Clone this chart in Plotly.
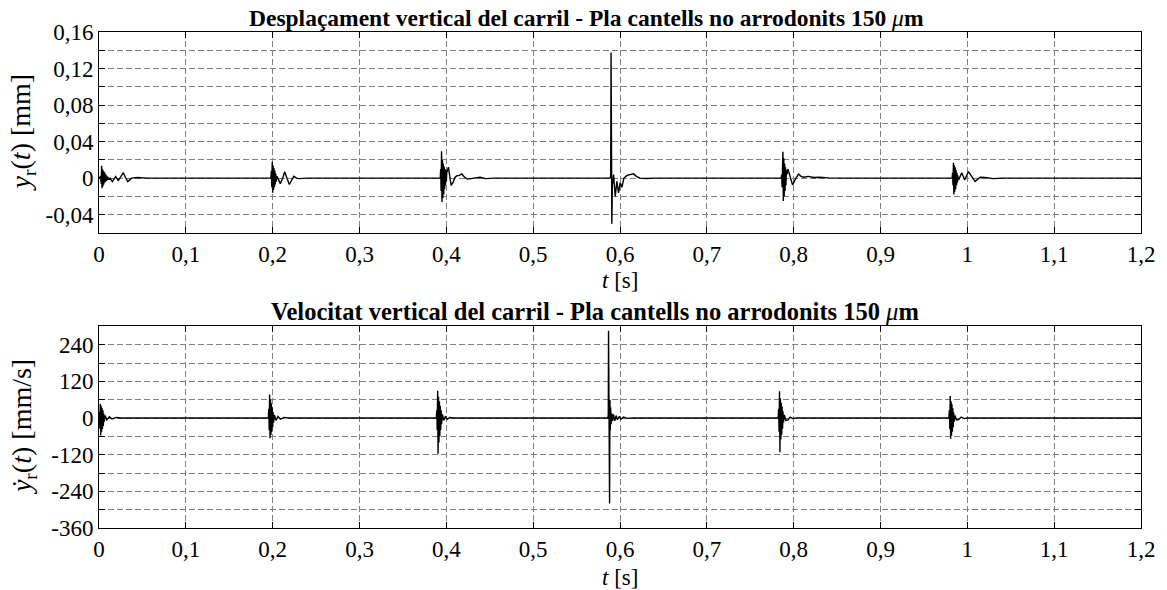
import plotly.graph_objects as go

# ---------------- Rail vertical displacement y_r(t) [mm] ----------------
# one list pair per wheel-flat impact
t_d0 = [0.0000, 0.0020, 0.0025, 0.0030, 0.0035, 0.0040, 0.0045, 0.0050, 0.0055, 0.0060,
        0.0065, 0.0070, 0.0075, 0.0080, 0.0085, 0.0090, 0.0095, 0.0100, 0.0110, 0.0127,
        0.0153, 0.0192, 0.0222, 0.0250, 0.0280, 0.0305, 0.0330, 0.0375, 0.0450, 0.0550]
y_d0 = [0.0, 0.002, -0.006, 0.0137, -0.011, 0.010, -0.009, 0.008, -0.007, 0.007,
        -0.005, 0.005, -0.004, 0.004, -0.003, 0.002, -0.002, 0.0015, -0.001, 0.000,
        -0.0037, 0.0018, -0.0026, 0.001, 0.006, 0.001, -0.0037, 0.000, 0.0008, 0.0]

t_d1 = [0.1980, 0.1985, 0.1990, 0.1995, 0.2000, 0.2005, 0.2010, 0.2015, 0.2020, 0.2025,
        0.2030, 0.2035, 0.2040, 0.2050, 0.2070, 0.2088, 0.2115, 0.2138, 0.2165, 0.2192,
        0.2220, 0.2243, 0.2275, 0.2300, 0.2400]
y_d1 = [0.0, 0.008, -0.010, 0.018, -0.016, 0.014, -0.013, 0.011, -0.010, 0.008,
        -0.007, 0.005, -0.004, 0.002, -0.002, -0.006, 0.000, 0.0069, 0.000, -0.0069,
        -0.002, 0.002, 0.000, -0.0005, 0.0]

t_d2 = [0.3930, 0.3935, 0.3940, 0.3945, 0.3950, 0.3955, 0.3960, 0.3965, 0.3970, 0.3975,
        0.3980, 0.3985, 0.3990, 0.3995, 0.4000, 0.4005, 0.4024, 0.4040, 0.4055, 0.4080,
        0.4100, 0.4124, 0.4150, 0.4178, 0.4210, 0.4243, 0.4300, 0.4389, 0.4450, 0.4550]
y_d2 = [0.0, 0.010, -0.014, 0.0295, -0.026, 0.020, -0.022, 0.016, -0.018, 0.013,
        -0.012, 0.010, -0.008, 0.009, -0.004, 0.006, 0.012, 0.002, -0.008, -0.004,
        0.001, 0.0027, 0.003, 0.0046, 0.001, -0.001, 0.000, 0.001, -0.0005, 0.0]

t_d3 = [0.5885, 0.5893, 0.5897, 0.5901, 0.5906, 0.5912, 0.5926, 0.5945, 0.5964, 0.5983,
        0.6002, 0.6022, 0.6045, 0.6080, 0.6120, 0.6155, 0.6190, 0.6230, 0.6300, 0.6400]
y_d3 = [0.0, 0.003, 0.1375, 0.010, -0.050, -0.008, 0.004, -0.020, -0.0035, -0.016,
        -0.005, -0.010, 0.000, 0.003, 0.004, 0.0047, 0.002, 0.000, -0.0003, 0.0]

t_d4 = [0.7855, 0.7862, 0.7867, 0.7872, 0.7876, 0.7881, 0.7886, 0.7891, 0.7896, 0.7901,
        0.7906, 0.7911, 0.7916, 0.7921, 0.7934, 0.7960, 0.7987, 0.8020, 0.8056, 0.8085,
        0.8114, 0.8145, 0.8172, 0.8230, 0.8300, 0.8400, 0.8530]
y_d4 = [0.0, 0.004, -0.010, 0.014, 0.029, -0.025, 0.022, -0.020, 0.016, -0.014,
        0.012, -0.008, 0.009, 0.004, 0.010, 0.002, -0.0073, -0.001, 0.0045, 0.002,
        0.001, 0.0015, 0.002, 0.0008, 0.001, 0.0003, 0.0]

t_d5 = [0.9825, 0.9830, 0.9835, 0.9840, 0.9845, 0.9850, 0.9855, 0.9860, 0.9865, 0.9870,
        0.9875, 0.9880, 0.9885, 0.9890, 0.9900, 0.9935, 0.9970, 1.0013, 1.0050, 1.0090,
        1.0147, 1.0200, 1.0300, 1.0400]
y_d5 = [0.0, 0.006, -0.008, 0.017, -0.018, 0.014, -0.015, 0.012, -0.012, 0.009,
        -0.008, 0.006, -0.005, 0.003, -0.002, 0.006, -0.002, 0.0072, 0.002, -0.0037,
        0.001, 0.0008, -0.0005, 0.0]

# ---------------- Rail vertical velocity dy_r/dt [mm/s] ----------------
t_v0 = [0.0000, 0.0005, 0.0010, 0.0015, 0.0020, 0.0025, 0.0030, 0.0035, 0.0040, 0.0045,
        0.0050, 0.0055, 0.0060, 0.0070, 0.0090, 0.0120, 0.0150, 0.0200, 0.0250]
y_v0 = [0, 20, -35, 47, -57, 40, -45, 33, -36, 25,
        -26, 15, -12, 8, -6, 4, -3, 2, 0]

t_v1 = [0.1950, 0.1955, 0.1960, 0.1965, 0.1970, 0.1975, 0.1980, 0.1985, 0.1990, 0.1995,
        0.2000, 0.2005, 0.2010, 0.2020, 0.2040, 0.2060, 0.2090, 0.2130, 0.2180]
y_v1 = [0, 30, -40, 77, -66, 60, -55, 48, -45, 35,
        -30, 20, -15, 10, -8, 5, -4, 2, 0]

t_v2 = [0.3885, 0.3890, 0.3895, 0.3900, 0.3905, 0.3910, 0.3915, 0.3920, 0.3925, 0.3930,
        0.3935, 0.3940, 0.3945, 0.3955, 0.3970, 0.3990, 0.4010, 0.4040, 0.4080]
y_v2 = [0, 25, -40, 89, -117, 70, -80, 55, -60, 40,
        -40, 25, -20, 12, -8, 6, -4, 2, 0]

t_v3 = [0.5860, 0.5865, 0.5868, 0.5872, 0.5876, 0.5880, 0.5884, 0.5888, 0.5892, 0.5897,
        0.5905, 0.5915, 0.5925, 0.5940, 0.5955, 0.5970, 0.5990, 0.6010, 0.6040, 0.6080, 0.6150]
y_v3 = [0, 10, 286, 20, 86, -280, 60, -40, 35, -20,
        15, -10, 12, -9, 8, -6, 5, -4, 3, -1, 0]

t_v4 = [0.7822, 0.7827, 0.7832, 0.7837, 0.7842, 0.7847, 0.7852, 0.7857, 0.7862, 0.7867,
        0.7872, 0.7877, 0.7882, 0.7892, 0.7910, 0.7935, 0.7960, 0.7990, 0.8030]
y_v4 = [0, 30, -45, 88, -112, 65, -70, 50, -55, 38,
        -35, 22, -15, 10, -8, -6, 3, -2, 0]

t_v5 = [0.9788, 0.9793, 0.9798, 0.9803, 0.9808, 0.9813, 0.9818, 0.9823, 0.9828, 0.9833,
        0.9838, 0.9843, 0.9848, 0.9858, 0.9875, 0.9900, 0.9930, 0.9960, 1.0000]
y_v5 = [0, 25, -35, 72, -68, 55, -58, 45, -45, 32,
        -30, 18, -12, 8, -6, -5, 3, -2, 0]

t_end = 1.2

# axis ticks (labelled ticks; the dashed grid also has minor lines in between)
x_ticks = [0, 0.1, 0.2, 0.3, 0.4, 0.5, 0.6, 0.7, 0.8, 0.9, 1.0, 1.1, 1.2]
x_labels = ["0", "0,1", "0,2", "0,3", "0,4", "0,5", "0,6", "0,7", "0,8", "0,9", "1", "1,1", "1,2"]
yd_ticks = [-0.04, 0, 0.04, 0.08, 0.12, 0.16]
yd_labels = ["-0,04", "0", "0,04", "0,08", "0,12", "0,16"]
yv_ticks = [-360, -240, -120, 0, 120, 240]
yv_labels = ["-360", "-240", "-120", "0", "120", "240"]

title_top = "<b>Desplaçament vertical del carril - Pla cantells no arrodonits 150 </b><i>μ</i><b>m</b>"
title_bot = "<b>Velocitat vertical del carril - Pla cantells no arrodonits 150 </b><i>μ</i><b>m</b>"


def join(ts, ys):
    tt, yy = [], []
    for a, b in zip(ts, ys):
        tt += a
        yy += b
    tt.append(t_end)
    yy.append(0)
    return tt, yy


td, yd = join([t_d0, t_d1, t_d2, t_d3, t_d4, t_d5], [y_d0, y_d1, y_d2, y_d3, y_d4, y_d5])
tv, yv = join([t_v0, t_v1, t_v2, t_v3, t_v4, t_v5], [y_v0, y_v1, y_v2, y_v3, y_v4, y_v5])

FONT = "Liberation Serif, Times New Roman, serif"
GRID = "#808080"
DASH = "6px,3px"

fig = go.Figure()
fig.add_trace(go.Scatter(x=td, y=yd, mode="lines", line=dict(color="black", width=1.4),
                         xaxis="x", yaxis="y", showlegend=False, hoverinfo="skip"))
fig.add_trace(go.Scatter(x=tv, y=yv, mode="lines", line=dict(color="black", width=1.4),
                         xaxis="x2", yaxis="y2", showlegend=False, hoverinfo="skip"))

frame = dict(showgrid=True, gridcolor=GRID, griddash=DASH, gridwidth=1,
             showline=True, linecolor="black", linewidth=1, mirror="ticks",
             ticks="inside", ticklen=6, tickcolor="black", zeroline=False,
             tickfont=dict(family=FONT, size=23, color="black"))
common_x = dict(range=[0, 1.2], tickvals=x_ticks, ticktext=x_labels, **frame)

fig.update_layout(
    width=1167, height=590,
    margin=dict(l=99, r=26, t=32, b=62),
    paper_bgcolor="white", plot_bgcolor="white",
    xaxis=dict(domain=[0, 1], anchor="y", **common_x),
    yaxis=dict(domain=[0.5948, 1], anchor="x", range=[-0.06, 0.16],
               tickvals=yd_ticks, ticktext=yd_labels,
               minor=dict(tick0=-0.06, dtick=0.04, showgrid=True, gridcolor=GRID,
                          griddash=DASH, gridwidth=1, ticks="inside", ticklen=6,
                          tickcolor="black"),
               **frame),
    xaxis2=dict(domain=[0, 1], anchor="y2", **common_x),
    yaxis2=dict(domain=[0, 0.4065], anchor="x2", range=[-360, 300],
                tickvals=yv_ticks, ticktext=yv_labels,
                minor=dict(tick0=-300, dtick=120, showgrid=True, gridcolor=GRID,
                           griddash=DASH, gridwidth=1, ticks="inside", ticklen=6,
                           tickcolor="black"),
                **frame),
)

ann_font = dict(family=FONT, size=23, color="black")
annotations = [
    dict(text=title_top, x=0.4674, y=1.0, xref="paper", yref="paper", xanchor="center",
         yanchor="bottom", yshift=-1, showarrow=False,
         font=dict(family=FONT, size=23.5, color="black")),
    dict(text=title_bot, x=0.476, y=0.4065, xref="paper", yref="paper", xanchor="center",
         yanchor="bottom", yshift=-1, showarrow=False,
         font=dict(family=FONT, size=24.5, color="black")),
    dict(text="<i>t</i> [s]", x=0.5, y=0.5948, xref="paper", yref="paper", xanchor="center",
         yanchor="middle", yshift=-48, showarrow=False, font=ann_font),
    dict(text="<i>t</i> [s]", x=0.5, y=0.0, xref="paper", yref="paper", xanchor="center",
         yanchor="middle", yshift=-49, showarrow=False, font=ann_font),
    dict(text="<i>y</i><sub>r</sub>(<i>t</i>) [mm]", x=-0.073, y=0.7974, xref="paper", yref="paper",
         xanchor="center", yanchor="middle", textangle=-90, showarrow=False,
         font=dict(family=FONT, size=28, color="black")),
    dict(text="<i>ẏ</i><sub>r</sub>(<i>t</i>) [mm/s]", x=-0.073, y=0.2033, xref="paper", yref="paper",
         xanchor="center", yanchor="middle", textangle=-90, showarrow=False,
         font=dict(family=FONT, size=28, color="black")),
]
fig.update_layout(annotations=annotations)

fig.write_html("out.html")
